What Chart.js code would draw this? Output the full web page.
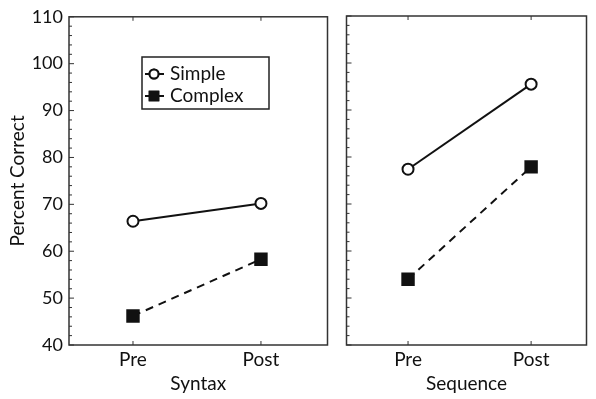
<!DOCTYPE html>
<html>
<head>
<meta charset="utf-8">
<script src="https://cdn.jsdelivr.net/npm/chart.js@4/dist/chart.umd.min.js"></script>
<style>
  body { margin: 0; background: #fff; }
  #wrap { position: relative; width: 596px; height: 399px; }
  canvas { position: absolute; top: 0; }
</style>
</head>
<body>
<div id="wrap">
  <canvas id="leftChart" width="337" height="399" style="left:0"></canvas>
  <canvas id="rightChart" width="259" height="399" style="left:337px"></canvas>
</div>
<script>
// data
const periods = ['Pre', 'Post'];
const seriesNames = ['Simple', 'Complex'];
const syntaxSimple = [66.4, 70.2];
const syntaxComplex = [46.2, 58.3];
const sequenceSimple = [77.4, 95.5];
const sequenceComplex = [54.0, 77.9];
const yMin = 40, yMax = 110, yStep = 10, yMinor = 2;

const font = 'Lato, "Open Sans", sans-serif';
const ink = '#111';

function toPoints(vals) {
  return vals.map((v, i) => ({ x: i, y: v }));
}

function makeSets(simple, complex) {
  return [{
    label: seriesNames[0],
    data: toPoints(simple),
    borderColor: ink,
    borderWidth: 2,
    pointStyle: 'circle',
    pointRadius: 5.5,
    pointBorderWidth: 2,
    pointBackgroundColor: '#fff',
    pointBorderColor: ink
  }, {
    label: seriesNames[1],
    data: toPoints(complex),
    borderColor: ink,
    borderWidth: 2,
    borderDash: [8, 6],
    pointStyle: 'rect',
    pointRadius: 9.5,
    pointBorderWidth: 0,
    pointBackgroundColor: ink,
    pointBorderColor: ink
  }];
}

// box round the plot plus inward tick marks
const frame = {
  id: 'frame',
  beforeDatasetsDraw(chart) {
    const { ctx, chartArea: a, scales } = chart;
    ctx.save();
    ctx.strokeStyle = '#333';
    ctx.lineWidth = 1.5;
    ctx.strokeRect(a.left, a.top, a.right - a.left, a.bottom - a.top);
    ctx.lineWidth = 1;
    ctx.beginPath();
    for (let v = yMin; v <= yMax; v += yMinor) {
      const y = scales.y.getPixelForValue(v);
      const len = v % yStep === 0 ? 5 : 3;
      ctx.moveTo(a.left, y);
      ctx.lineTo(a.left + len, y);
    }
    periods.forEach((p, i) => {
      const x = scales.x.getPixelForValue(i);
      ctx.moveTo(x, a.top);
      ctx.lineTo(x, a.top + 4);
      ctx.moveTo(x, a.bottom);
      ctx.lineTo(x, a.bottom - 4);
    });
    ctx.stroke();
    ctx.restore();
  }
};

// legend box inside the left panel
const boxLegend = {
  id: 'boxLegend',
  afterDraw(chart) {
    const ctx = chart.ctx;
    const bx = 142, by = 57, bw = 127, bh = 52;
    ctx.save();
    ctx.fillStyle = '#fff';
    ctx.fillRect(bx, by, bw, bh);
    ctx.strokeStyle = '#222';
    ctx.lineWidth = 1.5;
    ctx.strokeRect(bx, by, bw, bh);
    chart.data.datasets.forEach((ds, i) => {
      const y = by + 17 + i * 22;
      ctx.strokeStyle = ds.borderColor;
      ctx.lineWidth = 2;
      ctx.setLineDash(ds.borderDash || []);
      ctx.beginPath();
      ctx.moveTo(bx + 3, y);
      ctx.lineTo(bx + 22, y);
      ctx.stroke();
      ctx.setLineDash([]);
      Chart.helpers.drawPoint(ctx, {
        pointStyle: ds.pointStyle,
        radius: ds.pointStyle === 'rect' ? 7.5 : 4.5,
        rotation: 0,
        borderWidth: ds.pointBorderWidth
      }, bx + 12, y);
      ctx.fillStyle = ds.pointBackgroundColor;
      ctx.strokeStyle = ds.pointBorderColor;
      ctx.lineWidth = ds.pointBorderWidth || 0;
      ctx.fill();
      if (ds.pointBorderWidth) ctx.stroke();
      ctx.fillStyle = ink;
      ctx.font = '19px ' + font;
      ctx.textBaseline = 'middle';
      ctx.fillText(ds.label, bx + 28, y);
    });
    ctx.restore();
  }
};

function panel(id, title, simple, complex, showY, xMax) {
  const plugins = [frame];
  if (showY) plugins.push(boxLegend);
  return new Chart(document.getElementById(id), {
    type: 'line',
    data: { datasets: makeSets(simple, complex) },
    plugins: plugins,
    options: {
      responsive: false,
      animation: false,
      devicePixelRatio: 1,
      layout: { padding: { top: 16, right: showY ? 3 : 2, left: showY ? 0 : 4, bottom: 0 } },
      plugins: { legend: { display: false }, tooltip: { enabled: false } },
      scales: {
        x: {
          type: 'linear',
          min: -0.5,
          max: xMax,
          afterBuildTicks(s) { s.ticks = periods.map((p, i) => ({ value: i })); },
          grid: { display: false, drawTicks: false },
          border: { display: false },
          ticks: {
            color: ink, font: { family: font, size: 19 }, padding: 3,
            callback: (v) => periods[v]
          },
          title: { display: true, text: title, color: ink, font: { family: font, size: 19 }, padding: { top: 0, bottom: 4 } },
          afterFit(s) { s.height = 54; }
        },
        y: {
          display: showY,
          min: yMin,
          max: yMax,
          grid: { display: false, drawTicks: false },
          border: { display: false },
          ticks: { stepSize: yStep, color: ink, font: { family: font, size: 18 }, padding: 6 },
          title: { display: true, text: 'Percent Correct', color: ink, font: { family: font, size: 19 }, padding: { top: 6, bottom: 0 } },
          afterFit(s) { s.width = showY ? 69 : 0; }
        }
      }
    }
  });
}

panel('leftChart', 'Syntax', syntaxSimple, syntaxComplex, true, 1.52);
panel('rightChart', 'Sequence', sequenceSimple, sequenceComplex, false, 1.45);
</script>
</body>
</html>
